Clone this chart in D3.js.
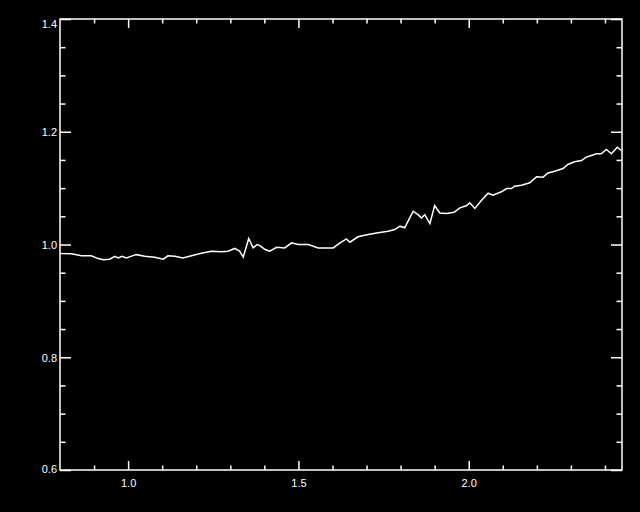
<!DOCTYPE html>
<html>
<head>
<meta charset="utf-8">
<script src="https://cdn.jsdelivr.net/npm/d3@7"></script>
<style>
  html, body { margin: 0; padding: 0; background: #000; }
  svg { display: block; }
</style>
</head>
<body>
<svg id="chart" width="640" height="512"></svg>
<script>
const wavelength = [0.800, 0.804, 0.834, 0.863, 0.892, 0.912, 0.927, 0.946, 0.961, 0.971, 0.982, 0.995,
  1.008, 1.024, 1.049, 1.078, 1.103, 1.117, 1.137, 1.161, 1.186, 1.215, 1.244, 1.274, 1.293,
  1.313, 1.328, 1.338, 1.354, 1.367, 1.379, 1.387, 1.402, 1.416, 1.436, 1.460, 1.480, 1.499,
  1.529, 1.558, 1.602, 1.622, 1.641, 1.651, 1.675, 1.705, 1.734, 1.763, 1.783, 1.798, 1.812,
  1.822, 1.837, 1.851, 1.861, 1.871, 1.886, 1.900, 1.915, 1.935, 1.957, 1.974, 1.993, 2.003,
  2.018, 2.037, 2.057, 2.071, 2.096, 2.111, 2.125, 2.135, 2.155, 2.179, 2.199, 2.218, 2.233,
  2.252, 2.277, 2.291, 2.311, 2.331, 2.345, 2.360, 2.375, 2.389, 2.404, 2.419, 2.436, 2.448];
const flux = [0.985, 0.984, 0.9835, 0.980, 0.980, 0.975, 0.973, 0.974, 0.979, 0.976, 0.979, 0.976,
  0.979, 0.982, 0.979, 0.9775, 0.974, 0.980, 0.979, 0.976, 0.980, 0.9846, 0.988, 0.987, 0.988,
  0.993, 0.988, 0.9775, 1.0106, 0.994, 1.000, 0.998, 0.991, 0.988, 0.995, 0.994, 1.003, 1.000,
  1.000, 0.994, 0.994, 1.003, 1.010, 1.004, 1.0137, 1.0177, 1.0208, 1.0236, 1.0266, 1.0325, 1.0296,
  1.0413, 1.059, 1.053, 1.047, 1.053, 1.037, 1.069, 1.056, 1.055, 1.057, 1.065, 1.0687, 1.074,
  1.064, 1.078, 1.091, 1.0875, 1.0935, 1.0993, 1.0993, 1.1034, 1.105, 1.1094, 1.120, 1.1194, 1.127,
  1.130, 1.1348, 1.142, 1.1467, 1.149, 1.155, 1.158, 1.161, 1.161, 1.1685, 1.161, 1.1726, 1.1667];

const xMajorTicks = [1.0, 1.5, 2.0];
const xTickLabels = ["1.0", "1.5", "2.0"];
const xMinorTicks = [0.9, 1.1, 1.2, 1.3, 1.4, 1.6, 1.7, 1.8, 1.9, 2.1, 2.2, 2.3, 2.4];
const yMajorTicks = [0.6, 0.8, 1.0, 1.2, 1.4];
const yTickLabels = ["0.6", "0.8", "1.0", "1.2", "1.4"];
const yMinorTicks = [0.65, 0.7, 0.75, 0.85, 0.9, 0.95, 1.05, 1.1, 1.15, 1.25, 1.3, 1.35];

const L = 60, R = 622, T = 19, B = 470;
const svg = d3.select("#chart");
svg.append("rect").attr("width", 640).attr("height", 512).attr("fill", "#000");

const x = d3.scaleLinear().domain([0.8, 2.45]).range([L, R]);
const y = d3.scaleLinear().domain([0.6, 1.4]).range([B, T]);

const font = "'Liberation Sans', Arial, sans-serif";
const xTickLen = 9, yTickLen = 11;

// bottom axis
const gB = svg.append("g").attr("transform", `translate(0,${B})`)
  .call(d3.axisBottom(x).tickValues(xMajorTicks).tickSize(-xTickLen).tickPadding(10)
    .tickFormat((d, i) => xTickLabels[i]));
gB.selectAll(".tick").data(xMajorTicks);
const gBm = svg.append("g").attr("transform", `translate(0,${B})`)
  .call(d3.axisBottom(x).tickValues(xMinorTicks).tickSize(-xTickLen / 2).tickFormat(""));
// top axis
const gT = svg.append("g").attr("transform", `translate(0,${T})`)
  .call(d3.axisTop(x).tickValues(xMajorTicks).tickSize(-xTickLen).tickFormat(""));
const gTm = svg.append("g").attr("transform", `translate(0,${T})`)
  .call(d3.axisTop(x).tickValues(xMinorTicks).tickSize(-xTickLen / 2).tickFormat(""));
// left axis
const gL = svg.append("g").attr("transform", `translate(${L},0)`)
  .call(d3.axisLeft(y).tickValues(yMajorTicks).tickSize(-yTickLen).tickPadding(14)
    .tickFormat((d, i) => yTickLabels[i]));
const gLm = svg.append("g").attr("transform", `translate(${L},0)`)
  .call(d3.axisLeft(y).tickValues(yMinorTicks).tickSize(-yTickLen / 2).tickFormat(""));
// right axis
const gR = svg.append("g").attr("transform", `translate(${R},0)`)
  .call(d3.axisRight(y).tickValues(yMajorTicks).tickSize(-yTickLen).tickFormat(""));
const gRm = svg.append("g").attr("transform", `translate(${R},0)`)
  .call(d3.axisRight(y).tickValues(yMinorTicks).tickSize(-yTickLen / 2).tickFormat(""));

svg.selectAll(".domain").remove();
svg.selectAll(".tick line").attr("stroke", "#fff").attr("stroke-width", 1.5);
svg.selectAll(".tick text").attr("fill", "#fff").style("font-family", font).style("font-size", "11px");

// bottom labels: baseline position
gB.selectAll(".tick text").attr("dy", null).attr("y", 17).attr("dominant-baseline", "auto");
// left labels: IDL-like shifting for end labels
gL.selectAll(".tick text").attr("dy", null).attr("dominant-baseline", "auto")
  .attr("x", -3).attr("text-anchor", "end")
  .attr("y", d => d === 1.4 ? 8 : (d === 0.6 ? 2 : 4));

// frame
svg.append("rect").attr("x", L).attr("y", T).attr("width", R - L).attr("height", B - T)
  .attr("fill", "none").attr("stroke", "#fff").attr("stroke-width", 1.5);

// line
const pts = wavelength.map((w, i) => [w, flux[i]]);
svg.append("path").datum(pts)
  .attr("fill", "none").attr("stroke", "#fff").attr("stroke-width", 1.5)
  .attr("d", d3.line().x(d => x(d[0])).y(d => y(d[1])));
</script>
</body>
</html>
